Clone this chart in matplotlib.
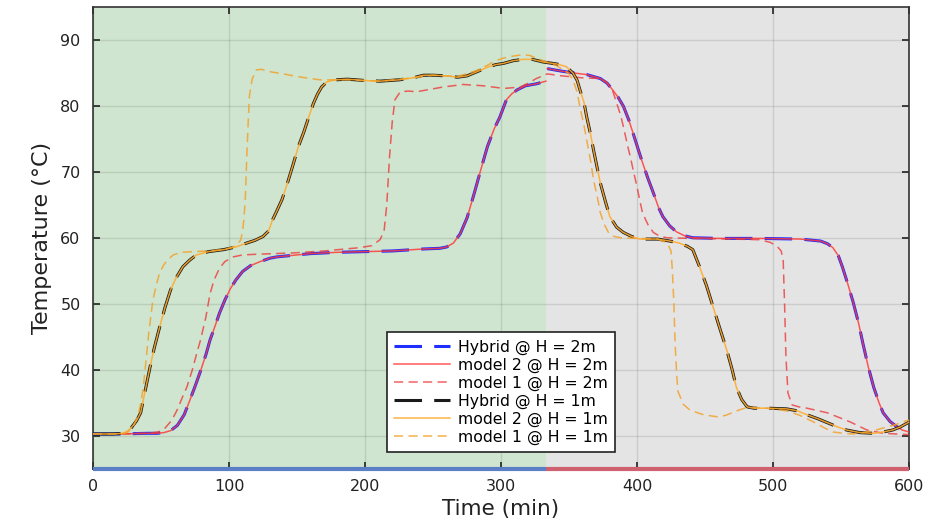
import matplotlib
matplotlib.use("Agg")
import matplotlib.pyplot as plt
import numpy as np

# ---- data ---------------------------------------------------------------
# heating phase ends / cooling phase starts (min)
phase_edges = [0, 333, 600]
phase_floor = 25

# Hybrid and model 2 at H = 2m (the two coincide)
t_2m_heat = [0, 20, 40, 47, 52, 57, 62, 67, 71, 75, 79, 83, 86, 90, 93, 97, 101,
             105, 110, 116, 123, 130, 135, 145, 160, 180, 200, 220, 243, 255, 260,
             265, 270, 275, 280, 285, 290, 295, 299, 304, 308, 312, 318, 326, 333]
T_2m_heat = [30.3, 30.3, 30.4, 30.4, 30.5, 30.8, 31.6, 33.2, 35.3, 37.5, 39.8, 42.3,
             44.5, 46.8, 48.6, 50.6, 52.3, 53.6, 54.9, 55.8, 56.4, 56.9, 57.1, 57.3,
             57.6, 57.8, 57.9, 58.0, 58.3, 58.4, 58.6, 59.2, 60.6, 63.0, 66.5, 70.2,
             73.8, 76.5, 78.2, 80.9, 81.8, 82.4, 83.0, 83.3, 83.7]
t_2m_cool = [334, 345, 355, 363, 373, 378, 382, 386, 390, 394, 397, 401, 404, 408,
             412, 416, 419, 424, 429, 435, 441, 460, 490, 520, 535, 540, 544, 548,
             551, 555, 559, 563, 566, 570, 574, 578, 581, 586, 591, 595, 600]
T_2m_cool = [85.6, 85.2, 84.9, 84.7, 84.1, 83.4, 82.4, 81.3, 79.9, 77.8, 75.9, 73.3,
             71.4, 69.0, 66.8, 64.5, 63.2, 61.8, 60.9, 60.3, 60.0, 59.9, 59.9, 59.8,
             59.5, 59.1, 58.5, 57.3, 55.6, 53.0, 50.2, 47.0, 44.1, 40.5, 37.4, 35.0,
             33.5, 32.2, 31.4, 30.9, 30.6]

# model 1 at H = 2m
t_m1_2m = [0, 20, 40, 48, 53, 58, 62, 66, 69, 73, 76, 79, 83, 86, 89, 93, 97, 103,
           110, 120, 147, 170, 196, 205, 211, 214, 216, 218, 220, 222, 226, 232, 238,
           257, 272, 287, 302, 314, 320, 326, 334, 345, 360, 373, 378, 382, 385, 388,
           390, 393, 395, 398, 400, 402, 404, 408, 412, 417, 422, 440, 470, 490, 498,
           503, 506, 507.5, 508.5, 509.5, 511, 514, 519, 525, 540, 557, 569, 581, 600]
T_m1_2m = [30.3, 30.3, 30.4, 30.6, 31.2, 32.4, 34.0, 36.0, 37.4, 40.0, 42.3, 44.5,
           48.0, 51.5, 53.6, 55.4, 56.4, 57.1, 57.4, 57.5, 57.7, 58.0, 58.5, 58.8,
           59.7, 61.0, 65.0, 72.2, 77.5, 80.9, 82.1, 82.2, 82.1, 82.8, 83.2, 83.0,
           82.6, 82.8, 83.4, 84.1, 84.8, 84.5, 84.2, 84.1, 83.5, 82.3, 80.4, 78.5,
           76.8, 74.0, 72.3, 69.5, 67.7, 65.7, 63.8, 62.0, 60.8, 60.2, 60.0, 59.9,
           59.8, 59.7, 59.3, 58.7, 58.0, 56.5, 50.0, 42.0, 36.5, 34.7, 34.4, 34.2,
           33.5, 32.1, 30.9, 30.4, 30.2]

# Hybrid and model 2 at H = 1m (the two coincide)
t_1m = [0, 15, 22, 25, 28, 32, 35, 38, 42, 45, 49, 53, 57, 61, 66, 71, 76, 85, 96,
        105, 113, 119, 125, 129, 132, 135, 139, 143, 147, 151, 155, 159, 162, 165,
        168, 172, 178, 187, 200, 211, 225, 235, 243, 250, 260, 268, 275, 282, 290,
        296, 302, 309, 316, 323, 331, 341, 348, 353, 356, 358, 361, 363, 366, 368,
        371, 373, 377, 380, 385, 390, 396, 402, 415, 424, 431, 437, 441, 446, 451,
        456, 461, 466, 470, 473, 477, 481, 486, 496, 510, 518, 525, 533, 540, 547,
        554, 564, 574, 581, 588, 594, 600]
T_1m = [30.3, 30.3, 30.4, 30.7, 31.2, 32.3, 33.5, 36.5, 40.5, 43.3, 46.5, 49.5,
        52.1, 53.9, 55.6, 56.6, 57.4, 57.9, 58.2, 58.6, 59.2, 59.6, 60.2, 61.0,
        62.7, 64.0, 65.8, 68.3, 71.0, 73.8, 76.0, 78.5, 80.3, 81.7, 82.8, 83.6,
        83.9, 84.0, 83.8, 83.7, 83.9, 84.2, 84.6, 84.6, 84.5, 84.3, 84.5, 85.1,
        85.8, 86.2, 86.4, 86.8, 87.0, 87.0, 86.6, 86.3, 85.9, 84.9, 83.8, 82.4,
        80.5, 78.3, 75.5, 73.3, 70.3, 68.3, 65.3, 63.2, 61.6, 60.8, 60.2, 59.8,
        59.8, 59.5, 59.2, 58.7, 58.2, 55.6, 52.8, 49.5, 46.2, 43.0, 40.0, 37.4,
        35.5, 34.4, 34.2, 34.2, 34.1, 33.8, 33.2, 32.6, 32.0, 31.4, 30.9, 30.5,
        30.4, 30.6, 30.9, 31.4, 32.1]

# model 1 at H = 1m
t_m1_1m = [0, 20, 25, 29, 33, 35, 37, 39, 41, 44, 47, 49, 52, 55, 59, 65, 74, 85, 96,
           103, 106, 108.5, 110, 111, 112, 113, 114, 115, 117, 120, 124, 128, 140,
           150, 160, 167, 187, 211, 235, 250, 268, 282, 290, 296, 302, 309, 316, 321,
           326, 331, 336, 341, 346, 350, 353, 356, 358, 361, 363, 366, 368, 371, 373,
           376, 379, 383, 388, 400, 415, 420, 423, 425, 426, 427, 428, 429, 430, 434,
           439, 449, 459, 465, 471, 476, 481, 486, 496, 510, 520, 530, 537, 544, 552,
           559, 566, 574, 581, 590, 598, 600]
T_m1_1m = [30.3, 30.3, 30.5, 31.2, 33.0, 34.8, 37.4, 41.5, 45.6, 50.6, 53.2, 54.7,
           55.9, 56.7, 57.4, 57.8, 57.9, 58.0, 58.2, 58.6, 59.0, 59.6, 61.0, 63.0,
           66.0, 72.0, 77.0, 81.5, 84.0, 85.4, 85.5, 85.2, 84.8, 84.4, 84.1, 83.9,
           83.9, 83.7, 84.2, 84.6, 84.4, 85.3, 86.1, 86.8, 87.2, 87.5, 87.7, 87.6,
           87.2, 86.8, 86.4, 86.0, 85.4, 84.8, 83.9, 82.0, 79.8, 77.0, 74.8, 71.5,
           68.8, 66.0, 63.8, 62.0, 60.8, 60.2, 60.0, 59.9, 59.8, 59.4, 58.9, 58.0,
           55.0, 50.6, 44.0, 40.0, 36.8, 34.8, 33.9, 33.2, 32.9, 33.1, 33.6, 34.0,
           34.3, 34.3, 34.2, 33.8, 33.1, 32.1, 31.3, 30.6, 30.4, 30.3, 30.5, 30.8,
           31.2, 31.7, 32.3, 32.4]

x_ticks = [0, 100, 200, 300, 400, 500, 600]
y_ticks = [30, 40, 50, 60, 70, 80, 90]

# ---- figure -------------------------------------------------------------
plt.rcParams["font.family"] = ["DejaVu Sans"]
fig = plt.figure(figsize=(9.35, 5.25), dpi=100)
ax = fig.add_axes([0.0995, 0.1067, 0.8727, 0.8809])

ax.axvspan(phase_edges[0], phase_edges[1], color="#cfe5cf", lw=0, zorder=0)
ax.axvspan(phase_edges[1], phase_edges[2], color="#e4e4e4", lw=0, zorder=0)
ax.plot(phase_edges[:2], [phase_floor] * 2, color="#5a7fc4", lw=3,
        zorder=3, clip_on=False, solid_capstyle="butt")
ax.plot(phase_edges[1:], [phase_floor] * 2, color="#cf6070", lw=3,
        zorder=3, clip_on=False, solid_capstyle="butt")

long_dash = (0, (9, 4))
short_dash = (0, (6, 3.5))

ax.plot(t_2m_heat, T_2m_heat, color="#1f2fff", lw=2.2, ls=long_dash,
        label="Hybrid @ H = 2m", zorder=3)
ax.plot(t_2m_cool, T_2m_cool, color="#1f2fff", lw=2.2, ls=long_dash, zorder=3)
ax.plot(t_2m_heat, T_2m_heat, color="#ff3b3b", lw=1.1, alpha=0.85,
        label="model 2 @ H = 2m", zorder=4)
ax.plot(t_2m_cool, T_2m_cool, color="#ff3b3b", lw=1.1, alpha=0.85, zorder=4)
ax.plot(t_m1_2m, T_m1_2m, color="#ee3a3a", lw=1.1, ls=short_dash, alpha=0.8,
        label="model 1 @ H = 2m", zorder=4)
ax.plot(t_1m, T_1m, color="#1a1a1a", lw=2.2, ls=long_dash,
        label="Hybrid @ H = 1m", zorder=5)
ax.plot(t_1m, T_1m, color="#ffab2e", lw=1.1, alpha=0.9,
        label="model 2 @ H = 1m", zorder=6)
ax.plot(t_m1_1m, T_m1_1m, color="#f2a22a", lw=1.1, ls=short_dash, alpha=0.85,
        label="model 1 @ H = 1m", zorder=6)

ax.set_xlim(0, 600)
ax.set_ylim(25, 95)
ax.set_xticks(x_ticks)
ax.set_yticks(y_ticks)
ax.grid(True, color="black", alpha=0.1, lw=1)
ax.set_axisbelow(True)
ax.tick_params(direction="in", length=5, width=1.2, top=True, right=True,
               labelsize=11.5, colors="#222222")
ax.tick_params(axis="y", pad=9)
ax.tick_params(axis="x", pad=7)
for s in ax.spines.values():
    s.set_color("#333333")
    s.set_linewidth(1.2)

ax.set_xlabel("Time (min)", fontsize=15.5, color="#222222", labelpad=4)
ax.set_ylabel("Temperature (°C)", fontsize=16, color="#222222", labelpad=6)

leg = ax.legend(loc="lower left", bbox_to_anchor=(0.360, 0.037), fontsize=11.3,
                frameon=True, fancybox=False, framealpha=1, edgecolor="#222222",
                handlelength=3.6, labelspacing=0.18, borderpad=0.45,
                handletextpad=0.5, borderaxespad=0)
leg.get_frame().set_linewidth(1.2)
leg.set_zorder(10)

fig.savefig("out.png", dpi=100)
